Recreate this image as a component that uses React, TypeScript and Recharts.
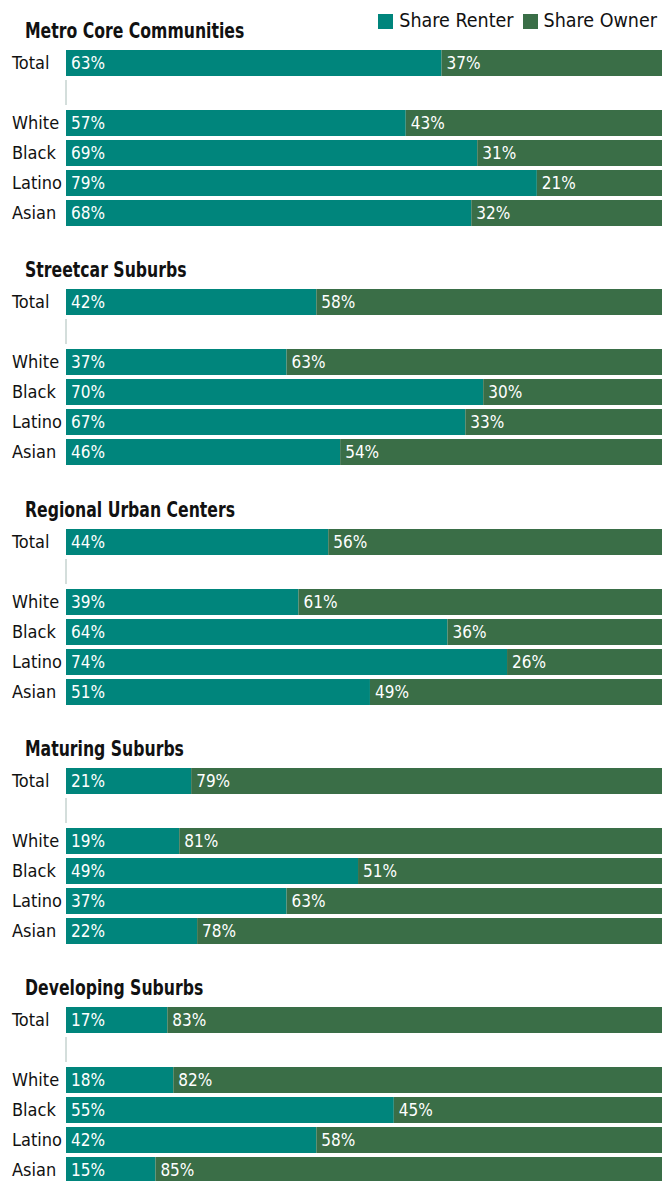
import React from "react";
import { BarChart, Bar, XAxis, YAxis, LabelList } from "recharts";

const panelTitles = [
  "Metro Core Communities",
  "Streetcar Suburbs",
  "Regional Urban Centers",
  "Maturing Suburbs",
  "Developing Suburbs",
];
const groups = ["Total", "White", "Black", "Latino", "Asian"];
const renterShare = [
  [63, 57, 69, 79, 68],
  [42, 37, 70, 67, 46],
  [44, 39, 64, 74, 51],
  [21, 19, 49, 37, 22],
  [17, 18, 55, 42, 15],
];
const ownerShare = [
  [37, 43, 31, 21, 32],
  [58, 63, 30, 33, 54],
  [56, 61, 36, 26, 49],
  [79, 81, 51, 63, 78],
  [83, 82, 45, 58, 85],
];

const RENTER = "#00857c";
const OWNER = "#3a6e47";
const FONT = "'Liberation Sans Narrow', 'DejaVu Sans Condensed', 'Roboto Condensed', sans-serif";

const PANEL_TOP = 48;
const PANEL_STEP = 239.25;

function buildRows(i: number) {
  const rows: { group: string; renter: number | null; owner: number | null }[] = [];
  groups.forEach((g, j) => {
    rows.push({ group: g, renter: renterShare[i][j], owner: ownerShare[i][j] });
    if (j === 0) rows.push({ group: "", renter: null, owner: null });
  });
  return rows;
}

const GroupTick = (props: any) => {
  const { x, y, payload } = props;
  if (!payload.value) {
    return <line x1={x} x2={x} y1={y - 13} y2={y + 12} stroke="#a9bdb8" strokeWidth={1} />;
  }
  return (
    <text x={x - 54} y={y} dy={6} textAnchor="start" fontSize={18} fill="#111" fontFamily={FONT}>
      {payload.value}
    </text>
  );
};

const pct = (v: any) => (v == null ? "" : `${v}%`);

function Panel({ i }: { i: number }) {
  const top = Math.round(PANEL_TOP + i * PANEL_STEP);
  return (
    <>
      <div
        style={{
          position: "absolute",
          left: 25,
          top: top - 30,
          fontFamily: FONT,
          fontWeight: "bold",
          fontSize: 21,
          lineHeight: "26px",
          color: "#111",
          whiteSpace: "nowrap",
          transform: "scaleX(0.83)",
          transformOrigin: "left center",
        }}
      >
        {panelTitles[i]}
      </div>
      <div style={{ position: "absolute", left: 0, top }}>
        <BarChart
          width={662}
          height={180}
          data={buildRows(i)}
          layout="vertical"
          margin={{ top: 0, right: 0, bottom: 0, left: 0 }}
          barSize={26}
        >
          <XAxis type="number" domain={[0, 100]} hide />
          <YAxis
            type="category"
            dataKey="group"
            width={66}
            axisLine={false}
            tickLine={false}
            tickSize={0}
            tickMargin={0}
            interval={0}
            tick={<GroupTick />}
          />
          <Bar dataKey="renter" stackId="a" fill={RENTER} isAnimationActive={false}>
            <LabelList
              dataKey="renter"
              position="insideLeft"
              offset={5}
              formatter={pct}
              fill="#fff"
              fontSize={17}
              fontFamily={FONT}
            />
          </Bar>
          <Bar dataKey="owner" stackId="a" fill={OWNER} isAnimationActive={false}>
            <LabelList
              dataKey="owner"
              position="insideLeft"
              offset={5}
              formatter={pct}
              fill="#fff"
              fontSize={17}
              fontFamily={FONT}
            />
          </Bar>
        </BarChart>
      </div>
    </>
  );
}

export default function App() {
  const legendItem = (color: string, label: string) => (
    <div style={{ display: "flex", alignItems: "center", marginLeft: 9 }}>
      <div style={{ width: 15, height: 15, background: color, marginRight: 6 }} />
      <span>{label}</span>
    </div>
  );
  return (
    <div
      style={{
        position: "absolute",
        left: 0,
        top: 0,
        width: 662,
        height: 1181,
        background: "#fff",
        overflow: "hidden",
      }}
    >
      <div
        style={{
          position: "absolute",
          right: 5,
          top: 8,
          display: "flex",
          fontFamily: FONT,
          fontSize: 19.5,
          lineHeight: "26px",
          color: "#111",
        }}
      >
        {legendItem(RENTER, "Share Renter")}
        {legendItem(OWNER, "Share Owner")}
      </div>
      {panelTitles.map((_, i) => (
        <Panel key={i} i={i} />
      ))}
    </div>
  );
}
